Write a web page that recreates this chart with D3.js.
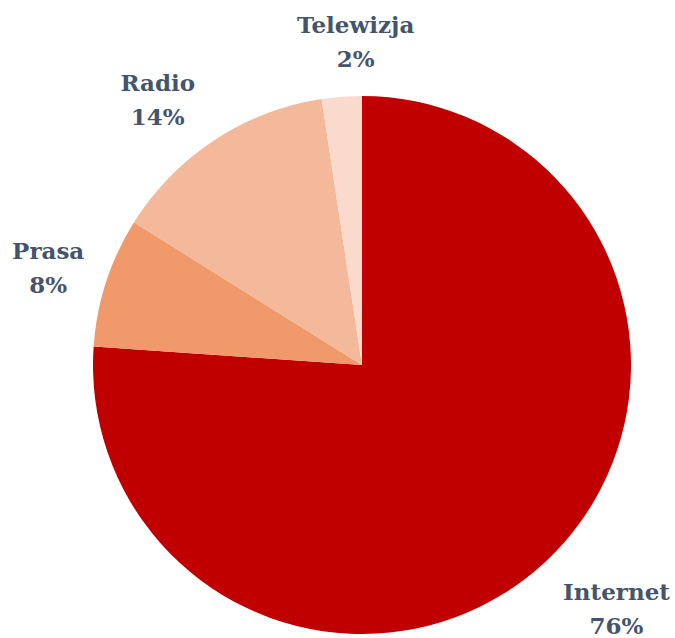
<!DOCTYPE html>
<html><head><meta charset="utf-8">
<script src="https://cdn.jsdelivr.net/npm/d3@7"></script>
<style>html,body{margin:0;padding:0;background:#fff;}</style>
</head><body>
<svg id="chart" width="675" height="638"></svg>
<script>
const categories = ["Internet", "Prasa", "Radio", "Telewizja"];
const values = [76.1, 7.8, 13.7, 2.4];
const colors = ["#C00000", "#F0996B", "#F4B89A", "#F9DACC"];

// layout (not data)
const cx = 362, cy = 365, r = 269, labelR = 310;
const labelNudge = {"Internet": [43, 25], "Prasa": [-19, 7], "Radio": [-34, 2], "Telewizja": [17, -6]};

const svg = d3.select("#chart");
const g = svg.append("g").attr("transform", `translate(${cx},${cy})`);
const data = categories.map((c, i) => ({cat: c, value: values[i], color: colors[i]}));
const pie = d3.pie().value(d => d.value).sort(null);
const arc = d3.arc().innerRadius(0).outerRadius(r);
const labelArc = d3.arc().innerRadius(labelR).outerRadius(labelR);
const arcs = pie(data);

g.selectAll("path").data(arcs).join("path")
  .attr("d", arc)
  .attr("fill", d => d.data.color);

const lab = g.selectAll("text.lbl").data(arcs).join("text")
  .attr("class", "lbl")
  .attr("text-anchor", "middle")
  .attr("font-family", "'DejaVu Serif', serif")
  .attr("font-weight", "bold")
  .attr("font-size", 23)
  .attr("fill", "#44546A")
  .attr("transform", d => {
    const [x, y] = labelArc.centroid(d);
    const n = labelNudge[d.data.cat];
    return `translate(${x + n[0]},${y + n[1]})`;
  });
lab.append("tspan").attr("x", 0).attr("y", -17).text(d => d.data.cat);
lab.append("tspan").attr("x", 0).attr("y", 17).text(d => Math.round(d.data.value) + "%");
</script>
</body></html>
